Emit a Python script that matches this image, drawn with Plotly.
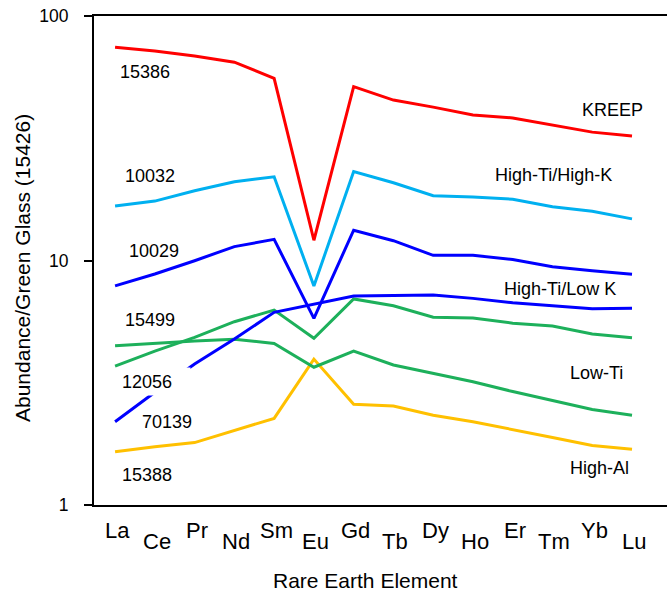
import plotly.graph_objects as go

# Rare earth elements along the x axis
elements = ["La", "Ce", "Pr", "Nd", "Sm", "Eu", "Gd", "Tb", "Dy", "Ho", "Er", "Tm", "Yb", "Lu"]

# REE abundances normalised to green glass 15426
kreep_15386 = [74.5, 71.9, 68.6, 64.7, 55.6, 12.1, 51.4, 45.3, 42.4, 39.4, 38.3, 35.8, 33.5, 32.3]
hiti_hik_10032 = [16.7, 17.5, 19.3, 21.0, 22.0, 7.87, 23.1, 20.8, 18.4, 18.2, 17.8, 16.6, 15.9, 14.8]
hiti_lok_10029 = [7.87, 8.81, 9.98, 11.4, 12.2, 5.80, 13.3, 12.05, 10.5, 10.5, 10.1, 9.43, 9.08, 8.78]
hiti_lok_70139 = [2.19, 2.89, 3.77, 4.77, 6.14, 6.64, 7.16, 7.20, 7.23, 7.00, 6.72, 6.53, 6.35, 6.38]
lowti_15499 = [4.48, 4.58, 4.69, 4.76, 4.58, 3.66, 4.26, 3.74, 3.46, 3.19, 2.91, 2.67, 2.46, 2.33]
lowti_12056 = [3.70, 4.26, 4.85, 5.62, 6.27, 4.81, 6.96, 6.53, 5.86, 5.82, 5.54, 5.40, 5.01, 4.83]
hial_15388 = [1.65, 1.73, 1.80, 2.01, 2.26, 3.95, 2.58, 2.54, 2.33, 2.19, 2.04, 1.89, 1.75, 1.69]

y_ticks = [1, 10, 100]

series = [
    ("15388", hial_15388, "#FFC000"),
    ("15499", lowti_15499, "#1DB05B"),
    ("12056", lowti_12056, "#1DB05B"),
    ("70139", hiti_lok_70139, "#0000FF"),
    ("10029", hiti_lok_10029, "#0000FF"),
    ("10032", hiti_hik_10032, "#00B0F0"),
    ("15386", kreep_15386, "#FF0000"),
]

FONT = "Liberation Sans, Arial, sans-serif"
W_FIG, H_FIG = 667, 591
L, R, T, B = 94, 0, 16, 86
PW, PH = W_FIG - L - R, H_FIG - T - B


def px_x(px):
    return (px - L) / PW


def px_y(py):
    return (H_FIG - B - py) / PH


fig = go.Figure()
for name, vals, color in series:
    fig.add_trace(go.Scatter(
        x=elements, y=vals, name=name, mode="lines",
        line=dict(color=color, width=3),
        showlegend=False,
    ))

annotations = []

# Sample numbers and group names
labels = [
    ("15386", 118, 72),
    ("10032", 123, 176),
    ("10029", 127, 251),
    ("15499", 123, 320),
    ("70139", 140, 422),
    ("15388", 120, 475),
    ("KREEP", 580, 110),
    ("High-Ti/High-K", 493, 175),
    ("High-Ti/Low K", 502, 289),
    ("Low-Ti", 568, 373),
    ("High-Al", 568, 468),
]
for text, x0, yc in labels:
    annotations.append(dict(
        text=text, x=px_x(x0), y=px_y(yc), xref="paper", yref="paper",
        xanchor="left", yanchor="middle", showarrow=False,
        font=dict(family=FONT, size=18, color="black"),
    ))

# 12056 sits on a white box that masks the line behind it
annotations.append(dict(
    text="12056", x=px_x(121), y=px_y(381), xref="paper", yref="paper",
    xanchor="left", yanchor="middle", showarrow=False,
    width=68, height=27, align="left", valign="middle",
    bgcolor="white", borderpad=0,
    font=dict(family=FONT, size=18, color="black"),
))

# Staggered element labels under the x axis
for i, el in enumerate(elements):
    annotations.append(dict(
        text=el, x=el, y=0, xref="x", yref="paper",
        xanchor="center", yanchor="middle", showarrow=False,
        yshift=-25 if i % 2 == 0 else -36, xshift=2,
        font=dict(family=FONT, size=22, color="black"),
    ))

# Axis titles
annotations.append(dict(
    text="Rare Earth Element", x=px_x(365), y=px_y(580), xref="paper", yref="paper",
    xanchor="center", yanchor="middle", showarrow=False,
    font=dict(family=FONT, size=21, color="black"),
))
annotations.append(dict(
    text="Abundance/Green Glass (15426)", x=px_x(22), y=px_y(268), xref="paper", yref="paper",
    xanchor="center", yanchor="middle", showarrow=False, textangle=-90,
    font=dict(family=FONT, size=21, color="black"),
))

fig.update_layout(
    width=W_FIG, height=H_FIG,
    margin=dict(l=L, r=R, t=T, b=B, pad=0),
    paper_bgcolor="white", plot_bgcolor="white",
    annotations=annotations,
    xaxis=dict(
        type="category", categoryorder="array", categoryarray=elements,
        range=[-0.53, 13.88], showticklabels=False, ticks="",
        showgrid=False, zeroline=False,
        showline=True, mirror=True, linecolor="black", linewidth=2,
    ),
    yaxis=dict(
        type="log", range=[0, 2],
        tickvals=y_ticks, ticktext=[str(v) for v in y_ticks],
        ticks="outside", ticklen=8, tickwidth=2, tickcolor="black",
        ticklabelstandoff=12,
        tickfont=dict(family=FONT, size=17.5, color="black"),
        showgrid=False, zeroline=False,
        showline=True, linecolor="black", linewidth=2,
    ),
)

fig.write_html("out.html")
